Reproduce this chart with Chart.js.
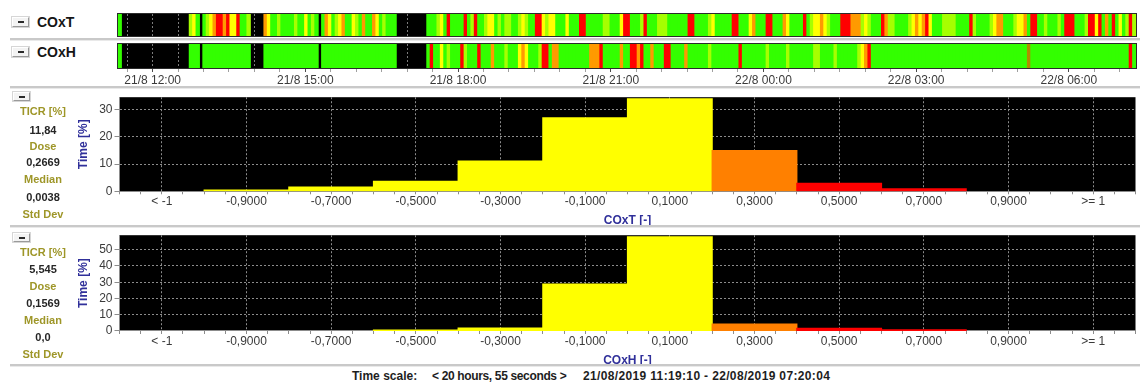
<!DOCTYPE html>
<html>
<head>
<meta charset="utf-8">
<title>COx overview</title>
<script src="https://cdn.jsdelivr.net/npm/chart.js@4/dist/chart.umd.min.js"></script>
<style>
  html, body { margin: 0; padding: 0; background: #fff; }
  #page { position: relative; width: 1140px; height: 383px; overflow: hidden;
          font-family: 'Liberation Sans', Arial, sans-serif; }
  canvas { position: absolute; left: 0; }
  .txt { position: absolute; white-space: nowrap; line-height: 14px; }
  .rule { position: absolute; left: 10px; width: 1130px; height: 2px; background: #c9c9c9;
          border-bottom: 1px solid #e9e9e9; }
  .btn { position: absolute; box-sizing: border-box; width: 17px; background: #f3f3f3;
         border: 1px solid; border-color: #ffffff #9a9a9a #9a9a9a #ffffff;
         box-shadow: 0 0 0 1px #d6d6d6; }
  .btn::after { content: ''; position: absolute; left: 5px; width: 6px; top: 50%; height: 2px;
                margin-top: -1px; background: #2a2a2a; }
  .name { font-weight: bold; font-size: 14px; color: #151515; line-height: 16px; }
  .stat { font-weight: bold; font-size: 11px; text-align: center; width: 62px; left: 12px; }
  .lab { color: #9e9628; }
  .val { color: #262626; }
  .foot { font-weight: bold; font-size: 12px; color: #1e1e1e; }
</style>
</head>
<body>
<div id="page">
  <div class="btn" style="left:12px;top:17px;height:10px"></div>
  <div class="txt name" style="left:37px;top:14px">COxT</div>
  <div class="btn" style="left:12px;top:47px;height:10px"></div>
  <div class="txt name" style="left:37px;top:44px">COxH</div>

  <canvas id="stripT" width="1140" height="26" style="top:12px"></canvas>
  <div class="rule" style="top:38px"></div>
  <canvas id="stripH" width="1140" height="46" style="top:41px"></canvas>
  <div class="rule" style="top:86px"></div>

  <div class="btn" style="left:13px;top:92px;height:9px"></div>
  <div id="statsT"></div>
  <canvas id="histT" width="1140" height="140" style="top:88px"></canvas>
  <div class="rule" style="top:225px"></div>

  <div class="btn" style="left:13px;top:233px;height:9px"></div>
  <div id="statsH"></div>
  <canvas id="histH" width="1140" height="142" style="top:226px"></canvas>
  <div class="rule" style="top:364px"></div>

  <div id="footer"></div>
</div>

<script>
// ---------- time base (minutes after 21/08 00:00) ----------
const RECORD_START = 11 * 60 + 19 + 10 / 60;   // 21/08/2019 11:19:10
const BIN_MINUTES = 4;

const timeTickValues = [720, 900, 1080, 1260, 1440, 1620, 1800];
const timeTickLabels = ['21/8 12:00', '21/8 15:00', '21/8 18:00', '21/8 21:00',
                        '22/8 00:00', '22/8 03:00', '22/8 06:00'];

// ---------- index class per 4-minute bin ----------
// k = no data, g = intact, l = mostly intact, y = borderline, o = impaired, r = lost, d = transient
const coxtBins = [
  'gkkkkkkkkk', 'kkkkkkkkkk', 'klygkglyor', 'roryyrgglk', 'kkkoygglgg',
  'gglggyglgk', 'goyglyoggy', 'lgoggoyglg', 'ggkkkkkkkk', 'kggglygrgg',
  'ggrglrggly', 'yglgllggly', 'lggrrylyyg', 'ggygggrrgg', 'gggllgggyr',
  'rggglrgggl', 'llggggggrr', 'gggglygggg', 'grrgggyogg', 'grrgggoygg',
  'ggrglyyoyl', 'gggrrroool', 'ylgggrollg', 'ggglyoyory', 'gggllllggg',
  'grlgggglyo', 'oggglyyogr', 'rgglggglgr', 'rrggglrryr', 'gogrgyglrl'
];
const coxhBins = [
  'gkkkkkkkkk', 'kkkkkkkkkk', 'kgggkggggg', 'gggggggggk', 'kkkggggggg',
  'gggggggggk', 'gggggggggg', 'gggggggggg', 'ggkkkkkkkk', 'kgrggyglgg',
  'grlgggrggg', 'oggglgggyo', 'yggglrrgoo', 'gggggggggo', 'oorgggggog',
  'grrorggogg', 'grrggggogg', 'gggglggggg', 'gggrgggggg', 'glggggglgg',
  'gggggllggg', 'glggggggly', 'orgggggggg', 'gggggggggg', 'gggggggggg',
  'gggggggggg', 'ggggggggdg', 'gggggggggg', 'gggggggggg', 'ggggggggrg'
];
const STRIP_COLORS = { g: '#33ff00', l: '#a6ff00', y: '#ffff00', o: '#ff9a00', r: '#ff0000', d: '#b08c00' };

// ---------- histograms ----------
const binCenters = [-1.1, -0.9, -0.7, -0.5, -0.3, -0.1, 0.1, 0.3, 0.5, 0.7, 0.9, 1.1];
const binLabels = ['< -1', '-0,9000', '-0,7000', '-0,5000', '-0,3000', '-0,1000',
                   '0,1000', '0,3000', '0,5000', '0,7000', '0,9000', '>= 1'];
const coxtTimePct = [0, 0.4, 1.5, 3.7, 11.1, 27.0, 34.0, 15.0, 2.9, 0.9, 0, 0];
const coxhTimePct = [0, 0, 0, 0.6, 1.8, 28.9, 57.9, 4.3, 1.7, 0.7, 0, 0];
const binColors = ['#ffff00', '#ffff00', '#ffff00', '#ffff00', '#ffff00', '#ffff00', '#ffff00',
                   '#ff8000', '#ff0000', '#ff0000', '#ff0000', '#ff0000'];
const coxtYTicks = [0, 10, 20, 30];
const coxhYTicks = [0, 10, 20, 30, 40, 50];

// ---------- side statistics ----------
const statLabels = ['TICR [%]', 'Dose', 'Median', 'Std Dev'];
const coxtStatValues = ['11,84', '0,2669', '0,0038'];
const coxhStatValues = ['5,545', '0,1569', '0,0'];

const footerParts = ['Time scale:', '< 20 hours, 55 seconds >', '21/08/2019 11:19:10 - 22/08/2019 07:20:04'];

// ---------- text panels ----------
function buildStats(holderId, values, centers) {
  const holder = document.getElementById(holderId);
  const rows = [];
  statLabels.forEach((lab, i) => {
    rows.push({ text: lab, cls: 'lab' });
    if (i < values.length) rows.push({ text: values[i], cls: 'val' });
  });
  rows.forEach((r, i) => {
    const d = document.createElement('div');
    d.className = 'txt stat ' + r.cls;
    d.style.top = (centers[i] - 7) + 'px';
    d.textContent = r.text;
    holder.appendChild(d);
  });
}
buildStats('statsT', coxtStatValues, [111, 129.5, 146, 162, 179, 196.5, 214]);
buildStats('statsH', coxhStatValues, [252, 269, 286, 302.5, 319.5, 336.5, 353.5]);

(function buildFooter() {
  const footer = document.getElementById('footer');
  const lefts = [352, 432, 583];
  const spacing = ['0px', '-0.35px', '0.35px'];
  footerParts.forEach((t, i) => {
    const d = document.createElement('div');
    d.className = 'txt foot';
    d.style.left = lefts[i] + 'px';
    d.style.top = '369px';
    d.style.letterSpacing = spacing[i];
    d.textContent = t;
    footer.appendChild(d);
  });
})();

// ---------- Chart.js ----------
Chart.defaults.font.family = "'Liberation Sans', Arial, sans-serif";
Chart.defaults.font.size = 12;
Chart.defaults.color = '#3a3a3a';

const plotFrame = {
  id: 'plotFrame',
  beforeDraw(chart, args, opts) {
    const { ctx, chartArea: a } = chart;
    ctx.save();
    ctx.fillStyle = opts.fill || '#000';
    ctx.fillRect(a.left, a.top, a.right - a.left, a.bottom - a.top);
    ctx.restore();
  },
  afterDraw(chart, args, opts) {
    if (!opts.stroke) return;
    const { ctx, chartArea: a } = chart;
    ctx.save();
    ctx.strokeStyle = opts.stroke;
    ctx.lineWidth = 1;
    ctx.strokeRect(a.left - 0.5, a.top - 0.5, a.right - a.left + 1, a.bottom - a.top + 1);
    ctx.restore();
  }
};
Chart.register(plotFrame);

const gridTimes = [];
for (let t = 690; t <= 1860; t += 30) gridTimes.push(t);

function stripChart(id, bins, padTop, axisHeight, showLabels) {
  const codes = bins.join('').split('');
  const points = codes.map((c, i) => ({
    x: RECORD_START + (i + 0.5) * BIN_MINUTES,
    y: c === 'k' ? null : 1
  }));
  return new Chart(document.getElementById(id), {
    type: 'bar',
    data: {
      datasets: [{
        data: points,
        backgroundColor: codes.map(c => STRIP_COLORS[c] || '#000'),
        borderWidth: 0,
        barThickness: 'flex',
        categoryPercentage: 1,
        barPercentage: 1,
        inflateAmount: 0.5
      }]
    },
    options: {
      responsive: false, animation: false, devicePixelRatio: 1,
      layout: { padding: { left: 118, right: 4, top: padTop, bottom: 0 } },
      plugins: {
        legend: { display: false }, tooltip: { enabled: false },
        plotFrame: { fill: '#000', stroke: '#2b2b2b' }
      },
      scales: {
        x: {
          type: 'linear', offset: false,
          min: RECORD_START, max: RECORD_START + codes.length * BIN_MINUTES,
          afterBuildTicks: s => { s.ticks = gridTimes.map(v => ({ value: v })); },
          afterFit: s => { s.height = axisHeight; },
          grid: {
            offset: false, color: '#7c7c7c', lineWidth: 1,
            drawTicks: showLabels, tickLength: 4,
            tickColor: c => timeTickValues.includes(c.tick && c.tick.value) ? '#4a4a4a' : '#a0a0a0'
          },
          border: { display: false, dash: [2, 2] },
          ticks: {
            display: showLabels, autoSkip: false, maxRotation: 0, padding: 1.5,
            color: '#3a3a3a', font: { size: 12 },
            callback: v => { const i = timeTickValues.indexOf(v); return i >= 0 ? timeTickLabels[i] : ''; }
          }
        },
        y: { display: false, min: 0, max: 1 }
      }
    }
  });
}

stripChart('stripT', coxtBins, 2, 2, false);
stripChart('stripH', coxhBins, 3, 19, true);

const histTicks = [];
for (let k = -24; k <= 24; k++) histTicks.push(k / 20);
const binIndex = v => binCenters.findIndex(c => Math.abs(c - v) < 1e-6);

function histChart(id, values, yMax, yTicks, axisTitle, padTop, plotHeight, canvasHeight, titlePad) {
  return new Chart(document.getElementById(id), {
    type: 'bar',
    data: {
      datasets: [{
        data: binCenters.map((c, i) => ({ x: c, y: values[i] > 0 ? values[i] : null })),
        backgroundColor: binColors,
        borderWidth: 0,
        barThickness: 'flex',
        categoryPercentage: 1,
        barPercentage: 1,
        inflateAmount: 0.6
      }]
    },
    options: {
      responsive: false, animation: false, devicePixelRatio: 1,
      layout: { padding: { left: 0, right: 4.5, top: padTop, bottom: 0 } },
      plugins: {
        legend: { display: false }, tooltip: { enabled: false },
        plotFrame: { fill: '#000' }
      },
      scales: {
        x: {
          type: 'linear', offset: false, min: -1.2, max: 1.2,
          afterBuildTicks: s => { s.ticks = histTicks.map(v => ({ value: v })); },
          afterFit: s => { s.height = canvasHeight - padTop - plotHeight; },
          grid: {
            offset: false, tickLength: 3, tickColor: '#8c8c8c',
            color: c => (c.tick && binIndex(c.tick.value) >= 0) ? '#8c8c8c' : 'rgba(0,0,0,0)'
          },
          border: { display: true, color: '#8c8c8c', dash: [2, 2] },
          ticks: {
            autoSkip: false, maxRotation: 0, padding: 0, color: '#3a3a3a', font: { size: 12 },
            callback: v => { const i = binIndex(v); return i >= 0 ? binLabels[i] : ''; }
          },
          title: {
            display: true, text: axisTitle, color: '#30309a',
            font: { size: 12, weight: 'bold' }, padding: { top: 0, bottom: titlePad }
          }
        },
        y: {
          min: 0, max: yMax,
          afterBuildTicks: s => { s.ticks = yTicks.map(v => ({ value: v })); },
          afterFit: s => { s.width = 119.5; },
          grid: {
            tickLength: 5, tickColor: '#8c8c8c',
            color: c => (c.tick && c.tick.value === 0) ? 'rgba(0,0,0,0)' : '#8c8c8c'
          },
          border: { display: true, color: '#8c8c8c', dash: [2, 2] },
          ticks: { padding: 2, color: '#3a3a3a', font: { size: 12 } },
          title: {
            display: true, text: 'Time [%]', color: '#30309a',
            font: { size: 12, weight: 'bold' }, padding: { top: 76.8, bottom: 0 }
          }
        }
      }
    }
  });
}

histChart('histT', coxtTimePct, 34.6, coxtYTicks, 'COxT [-]', 4.3, 99, 140, -0.2);
histChart('histH', coxhTimePct, 58.9, coxhYTicks, 'COxH [-]', 5.7, 99.3, 142, 0.6);
</script>
</body>
</html>
